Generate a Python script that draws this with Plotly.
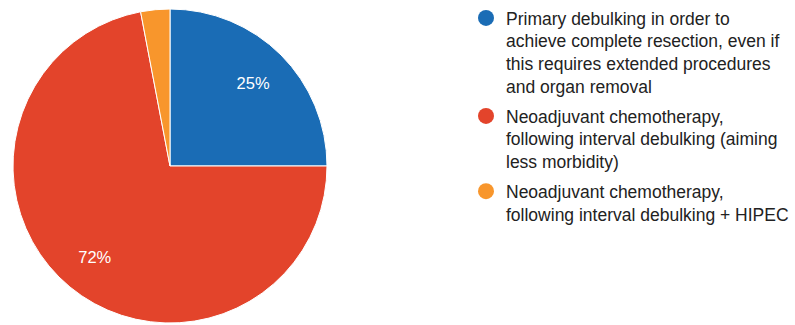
import plotly.graph_objects as go

labels = [
    "Primary debulking in order to<br>achieve complete resection, even if<br>this requires extended procedures<br>and organ removal",
    "Neoadjuvant chemotherapy,<br>following interval debulking (aiming<br>less morbidity)",
    "Neoadjuvant chemotherapy,<br>following interval debulking + HIPEC",
]
values = [25, 72, 3]
colors = ["#1a6cb5", "#e3442b", "#f8962c"]
shown_text = ["25%", "72%", ""]

dom = dict(x=[13/795, 327/795], y=[2/325, 316/325])

fig = go.Figure()
fig.add_trace(go.Pie(
    labels=labels, values=values, sort=False, direction="clockwise", rotation=0,
    marker=dict(colors=colors, line=dict(color="white", width=1)),
    textinfo="none", showlegend=False, hoverinfo="label+percent",
    domain=dom,
))
# transparent ring carrying the percentage labels at 3/4 radius
fig.add_trace(go.Pie(
    labels=labels, values=values, sort=False, direction="clockwise", rotation=0,
    hole=0.5,
    marker=dict(colors=["rgba(0,0,0,0)"] * 3, line=dict(width=0)),
    text=shown_text, textinfo="text", textposition="inside",
    insidetextorientation="horizontal",
    textfont=dict(color="white", size=16.5, family="Liberation Sans, Arial"),
    showlegend=False, hoverinfo="skip",
    domain=dom,
))
for i, (lab, col) in enumerate(zip(labels, colors)):
    fig.add_trace(go.Scatter(
        x=[None], y=[None], mode="markers", name=lab,
        marker=dict(symbol="circle", size=19, color=col),
        legendgroup=f"g{i}", showlegend=True,
    ))

fig.update_layout(
    width=795, height=325,
    margin=dict(l=0, r=0, t=0, b=0),
    paper_bgcolor="white", plot_bgcolor="white",
    xaxis=dict(visible=False), yaxis=dict(visible=False),
    legend=dict(
        x=466/795, y=1.0, xanchor="left", yanchor="top",
        font=dict(size=17.5, color="#222222", family="Liberation Sans, Arial"),
        valign="top", tracegroupgap=4, itemsizing="trace",
    ),
)
fig.write_html("out.html", config={"displayModeBar": False},
               post_script="document.body.style.margin='0';")
